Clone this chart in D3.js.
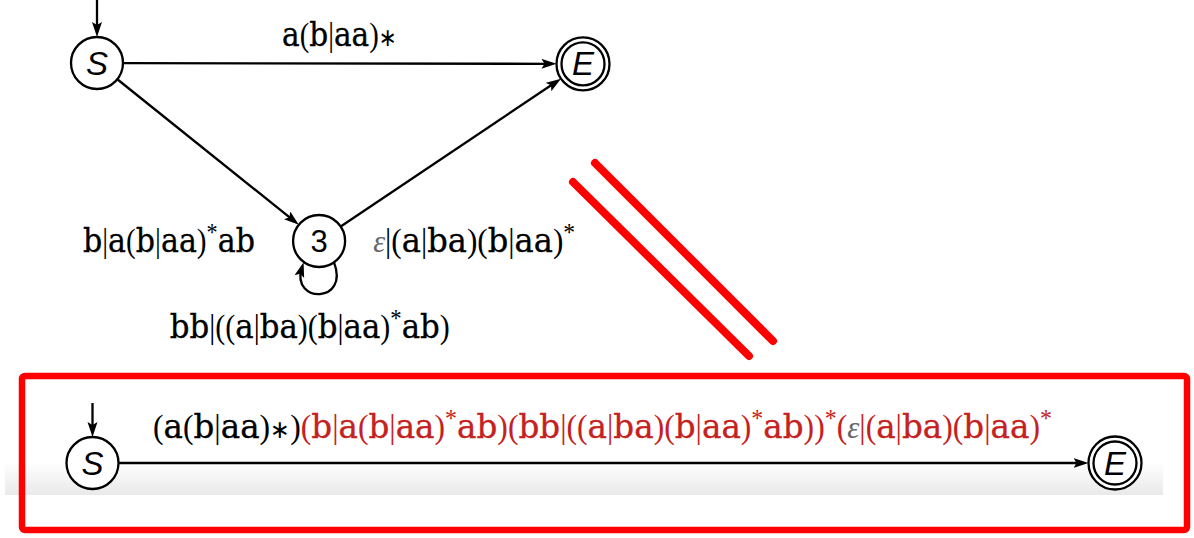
<!DOCTYPE html>
<html>
<head>
<meta charset="utf-8">
<script src="https://cdn.jsdelivr.net/npm/d3@7"></script>
<style>
    body { margin: 0; background: #fff; }
    svg { display: block; }
    .state { fill: #fff; stroke: #000; stroke-width: 2.3; }
    .edge { fill: none; stroke: #000; stroke-width: 2.3; }
    .stateName { font-family: 'Liberation Sans', 'DejaVu Sans', sans-serif; font-style: italic; font-size: 33px; }
    .stateNum { font-family: 'Liberation Sans', 'DejaVu Sans', sans-serif; font-size: 31px; }
    .tt { font-family: 'DejaVu Serif', 'Liberation Serif', serif; font-size: 34px; }
    .rm { font-family: 'Liberation Serif', 'DejaVu Serif', serif; font-size: 33px; }
    .sup { font-family: 'Liberation Serif', 'DejaVu Serif', serif; font-size: 25px; }
    .op { font-family: 'DejaVu Sans', sans-serif; font-size: 25px; }
    .eps { font-family: 'Liberation Serif', 'DejaVu Serif', serif; font-style: italic; font-size: 32px; }
</style>
</head>
<body>
<svg id="chart" width="1194" height="538"></svg>
<script>
// automaton before eliminating state 3
const stateIds = ['S', '3', 'E'];
const acceptingIds = ['E'];
const startId = 'S';
const edgeSources = ['S', 'S', '3', '3'];
const edgeTargets = ['E', '3', 'E', '3'];
// '^' marks the next glyph as superscript
const edgeLabels = ['a(b|aa)∗', 'b|a(b|aa)^*ab', 'ε|(a|ba)(b|aa)^*', 'bb|((a|ba)(b|aa)^*ab)'];

// automaton after eliminating state 3
const reducedStateIds = ['S', 'E'];
const reducedLabelPrefix = '(a(b|aa)∗)';
const reducedLabelRest = '(b|a(b|aa)^*ab)(bb|((a|ba)(b|aa)^*ab))^*(ε|(a|ba)(b|aa)^*';

// colours
const inkColor = '#000';
const redTextColor = '#c62121';
const epsColor = '#666';
const markColor = '#ff0000';

// layout, in grid units of the scales below
const topGrid = { S: [0, 0], '3': [0.457, 1], E: [1, 0.005] };
const topLabelGrid = [[0.499, -0.0955, 115], [0.148, 1.062, 172], [0.776, 1.062, 202], [0.438, 1.545, 280]];
const bottomGrid = { S: 0, E: 1 };

const nodeR = 26;
const acceptOuterR = 26.5;
const acceptInnerR = 21.5;
const supShift = -11;

const xTop = d3.scaleLinear().domain([0, 1]).range([97, 583]);
const yTop = d3.scaleLinear().domain([0, 1]).range([63, 241]);
const xBottom = d3.scaleLinear().domain([0, 1]).range([92.5, 1115]);
const yBottom = 463;

const svg = d3.select('#chart');

// arrow head
const defs = svg.append('defs');
defs.append('marker')
    .attr('id', 'arrow')
    .attr('markerUnits', 'userSpaceOnUse')
    .attr('markerWidth', 16).attr('markerHeight', 11)
    .attr('refX', 8).attr('refY', 5)
    .attr('orient', 'auto')
    .append('path')
    .attr('d', 'M0,0 L15,5 L0,10 L3,5 Z')
    .attr('fill', inkColor);

const band = defs.append('linearGradient').attr('id', 'band').attr('x1', 0).attr('y1', 0).attr('x2', 0).attr('y2', 1);
band.append('stop').attr('offset', 0).attr('stop-color', '#fff');
band.append('stop').attr('offset', 1).attr('stop-color', '#e9e9e9');

const glyphKind = ch => /[a-z]/.test(ch) ? 'tt' : ch === 'ε' ? 'eps' : ch === '∗' ? 'op' : 'rm';

// appends a regex as tspans, returns the current superscript shift
const addRegex = (text, str, color, shift) => {
    let sup = false;
    for (const ch of str) {
        if (ch === '^') { sup = true; continue; }
        const kind = sup ? 'sup' : glyphKind(ch);
        const span = text.append('tspan').attr('class', kind).text(ch)
            .attr('fill', kind === 'eps' ? epsColor : color);
        if (kind === 'tt') span.attr('stroke', color).attr('stroke-width', 0.35);
        const want = kind === 'sup' ? supShift : 0;
        if (want !== shift) {
            span.attr('dy', want - shift);
            shift = want;
        }
        sup = false;
    }
    return shift;
};

// squeeze a label horizontally so it spans the wanted width
const fitLabel = (g, text, left, baseline, width) => {
    const w = text.node().getComputedTextLength();
    g.attr('transform', `translate(${left},${baseline}) scale(${width / w},1)`);
};

const drawState = (g, id, cx, cy, accepting) => {
    g.append('circle').attr('class', 'state').attr('cx', cx).attr('cy', cy)
        .attr('r', accepting ? acceptOuterR : nodeR);
    if (accepting) {
        g.append('circle').attr('class', 'state').attr('cx', cx).attr('cy', cy).attr('r', acceptInnerR);
    }
    g.append('text')
        .attr('class', /[0-9]/.test(id) ? 'stateNum' : 'stateName')
        .attr('x', cx).attr('y', cy)
        .attr('text-anchor', 'middle')
        .attr('dominant-baseline', 'central')
        .text(id);
};

const drawEdge = (g, p, q, rp, rq) => {
    const dx = q[0] - p[0];
    const dy = q[1] - p[1];
    const dist = Math.sqrt(dx * dx + dy * dy);
    const ux = dx / dist, uy = dy / dist;
    const end = rq + 7; // tip of the marker sticks 7px past the line end
    g.append('line').attr('class', 'edge')
        .attr('x1', p[0] + rp * ux).attr('y1', p[1] + rp * uy)
        .attr('x2', q[0] - end * ux).attr('y2', q[1] - end * uy)
        .attr('marker-end', 'url(#arrow)');
};

const drawLoop = (g, c, r) => {
    const pt = (deg, rad) => [c[0] + rad * Math.cos(deg * Math.PI / 180), c[1] + rad * Math.sin(deg * Math.PI / 180)];
    const p0 = pt(55, r);
    const p1 = pt(64, 70);
    const p2 = pt(114, 68);
    const p3 = pt(122, r + 7);
    g.append('path').attr('class', 'edge')
        .attr('d', `M${p0} C${p1} ${p2} ${p3}`)
        .attr('marker-end', 'url(#arrow)');
};

const drawStart = (g, cx, cy, len) => {
    g.append('line').attr('class', 'edge')
        .attr('x1', cx).attr('y1', cy - len)
        .attr('x2', cx).attr('y2', cy - nodeR - 7)
        .attr('marker-end', 'url(#arrow)');
};

// ---- top automaton ----
const topG = svg.append('g');
const topPos = id => [xTop(topGrid[id][0]), yTop(topGrid[id][1])];
const radiusOf = id => acceptingIds.includes(id) ? acceptOuterR : nodeR;

edgeSources.forEach((src, i) => {
    const tgt = edgeTargets[i];
    if (src === tgt) drawLoop(topG, topPos(src), nodeR);
    else drawEdge(topG, topPos(src), topPos(tgt), radiusOf(src), radiusOf(tgt));

    const [u, v, width] = topLabelGrid[i];
    const lg = topG.append('g');
    const text = lg.append('text').attr('x', 0).attr('y', 0);
    addRegex(text, edgeLabels[i], inkColor, 0);
    fitLabel(lg, text, xTop(u) - width / 2, yTop(v), width);
});

drawStart(topG, topPos(startId)[0], topPos(startId)[1], 66);
stateIds.forEach(id => drawState(topG, id, topPos(id)[0], topPos(id)[1], acceptingIds.includes(id)));

// ---- red strike marks ----
const strikes = [[[573, 182], [749, 356]], [[595, 163], [773, 341]]];
strikes.forEach(s => {
    svg.append('line')
        .attr('x1', s[0][0]).attr('y1', s[0][1])
        .attr('x2', s[1][0]).attr('y2', s[1][1])
        .attr('stroke', markColor).attr('stroke-width', 8).attr('stroke-linecap', 'round');
});

// ---- bottom automaton ----
const bottomG = svg.append('g');
bottomG.append('rect').attr('x', 5).attr('y', 462).attr('width', 1158).attr('height', 33).attr('fill', 'url(#band)');

const botPos = id => [xBottom(bottomGrid[id]), yBottom];
drawEdge(bottomG, botPos('S'), botPos('E'), nodeR, acceptOuterR);
drawStart(bottomG, botPos('S')[0], yBottom, 60);
reducedStateIds.forEach(id => drawState(bottomG, id, botPos(id)[0], yBottom, acceptingIds.includes(id)));

const rg = bottomG.append('g');
const rtext = rg.append('text').attr('x', 0).attr('y', 0);
let shift = addRegex(rtext, reducedLabelPrefix, inkColor, 0);
addRegex(rtext, reducedLabelRest, redTextColor, shift);
fitLabel(rg, rtext, 153, 438, 899);

// highlight frame
svg.append('rect')
    .attr('x', 22).attr('y', 376).attr('width', 1165).attr('height', 154).attr('rx', 3)
    .attr('fill', 'none').attr('stroke', markColor).attr('stroke-width', 6.5);
</script>
</body>
</html>
